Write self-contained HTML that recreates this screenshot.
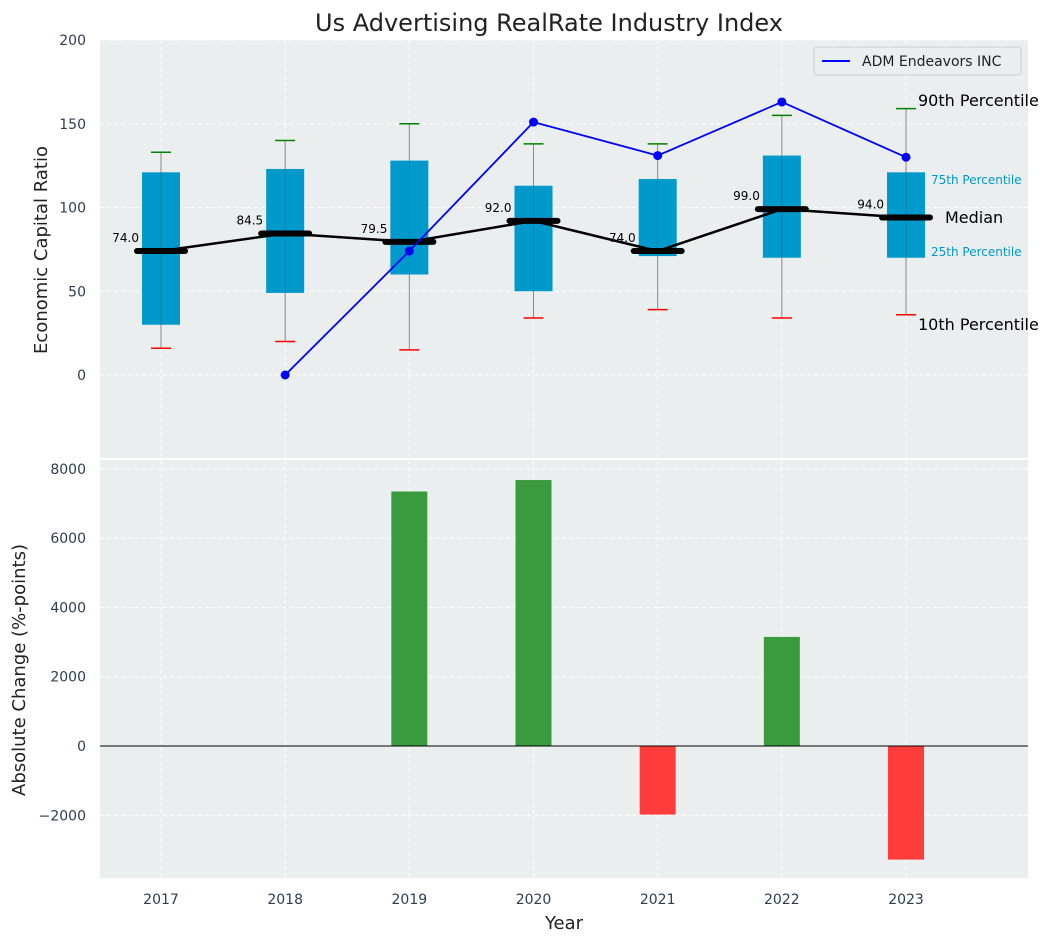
<!DOCTYPE html>
<html><head><meta charset="utf-8"><style>
body{margin:0;background:#fff;font-family:"Liberation Sans","DejaVu Sans",sans-serif}
svg text{font-family:"DejaVu Sans","Liberation Sans",sans-serif}
</style></head><body>
<svg id="c" width="1053" height="942" xmlns="http://www.w3.org/2000/svg"></svg>
<script>
const years=[2017,2018,2019,2020,2021,2022,2023];
const q1=[30,49,60,50,71,70,70];
const q3=[121,123,128,113,117,131,121];
const med=[74,84.5,79.5,92,74,99,94];
const p10=[16,20,15,34,39,34,36];
const p90=[133,140,150,138,138,155,159];
const compYears=[2018,2019,2020,2021,2022,2023];
const compVals=[0,74,151,131,163,130];
const barYears=[2019,2020,2021,2022,2023];
const barVals=[7350,7680,-1980,3150,-3280];
const topTicks=[0,50,100,150,200];
const botTicks=[-2000,0,2000,4000,6000,8000];

const svg=document.getElementById('c');const NS='http://www.w3.org/2000/svg';
function el(t,a,txt){const e=document.createElementNS(NS,t);for(const k in a)e.setAttribute(k,a[k]);if(txt!==undefined)e.textContent=txt;svg.appendChild(e);return e;}
const L=100,R=1028;
const x=v=>161+(v-2017)*124.17;
const yT=v=>375-v*1.675;
const yB=v=>746-v*0.03463;
let e=el('rect',{x:L,y:40,width:R-L,height:418,fill:'#eaeeef'});

e=el('rect',{x:L,y:460,width:R-L,height:418,fill:'#eaeeef'});

years.forEach(v=>{el('line',{x1:x(v),x2:x(v),y1:40,y2:458,stroke:'#fff','stroke-dasharray':'4,3'});el('line',{x1:x(v),x2:x(v),y1:460,y2:878,stroke:'#fff','stroke-dasharray':'4,3'});});
topTicks.forEach(v=>{el('line',{x1:L,x2:R,y1:yT(v),y2:yT(v),stroke:'#fff','stroke-dasharray':'4,3'});
 e=el('text',{x:86,y:yT(v)+5,'text-anchor':'end','font-size':14,fill:'#2c3e50'},v);});
botTicks.forEach(v=>{el('line',{x1:L,x2:R,y1:yB(v),y2:yB(v),stroke:'#fff','stroke-dasharray':'4,3'});
 e=el('text',{x:86,y:yB(v)+5,'text-anchor':'end','font-size':14,fill:'#2c3e50'},v<0?'\u2212'+(-v):v);});
years.forEach((yr,i)=>{const cx=x(yr);
 el('line',{x1:cx,x2:cx,y1:yT(p10[i]),y2:yT(p90[i]),stroke:'#888','stroke-width':1});
 e=el('rect',{x:cx-19,y:yT(q3[i]),width:38,height:yT(q1[i])-yT(q3[i]),fill:'#0099cc'});
 
 el('line',{x1:cx,x2:cx,y1:yT(q1[i]),y2:yT(q3[i]),stroke:'#555','stroke-width':0.8,opacity:0.6});
 el('line',{x1:cx-10,x2:cx+10,y1:yT(p90[i]),y2:yT(p90[i]),stroke:'green','stroke-width':1.5});
 el('line',{x1:cx-10,x2:cx+10,y1:yT(p10[i]),y2:yT(p10[i]),stroke:'red','stroke-width':1.5});
});
let d=years.map((yr,i)=>(i?'L':'M')+x(yr)+','+yT(med[i])).join(' ');
e=el('path',{d:d,fill:'none',stroke:'#000','stroke-width':2.5});
years.forEach((yr,i)=>{const cx=x(yr);
 el('line',{x1:cx-24,x2:cx+24,y1:yT(med[i]),y2:yT(med[i]),stroke:'#000','stroke-width':6,'stroke-linecap':'round'});
 e=el('text',{x:cx-22,y:yT(med[i])-9,'text-anchor':'end','font-size':12,fill:'#000'},med[i].toFixed(1));
 });
d=compYears.map((yr,i)=>(i?'L':'M')+x(yr)+','+yT(compVals[i])).join(' ');
e=el('path',{d:d,fill:'none',stroke:'blue','stroke-width':1.8});
compYears.forEach((yr,i)=>{e=el('circle',{cx:x(yr),cy:yT(compVals[i]),r:4.5,fill:'blue'});});
[[918,106,'90th Percentile',16,'#000'],[931,184,'75th Percentile',12,'#0099cc'],[945,223,'Median',16,'#000'],[931,256,'25th Percentile',12,'#0099cc'],[918,330,'10th Percentile',16,'#000']].forEach(a=>{
 e=el('text',{x:a[0],y:a[1],'font-size':a[3],fill:a[4]},a[2]);});
e=el('rect',{x:814,y:47,width:207,height:28,fill:'#eaeeef',stroke:'#ccc',rx:3});
el('line',{x1:822,x2:850,y1:61,y2:61,stroke:'blue','stroke-width':2});
e=el('text',{x:862,y:66,'font-size':14,fill:'#222'},'ADM Endeavors INC');
barYears.forEach((yr,i)=>{const v=barVals[i];const y0=yB(Math.max(v,0)),y1=yB(Math.min(v,0));
 e=el('rect',{x:x(yr)-18,y:y0,width:36,height:y1-y0,fill:v>=0?'#3a9b3e':'#ff3c3c'});
 });
el('line',{x1:L,x2:R,y1:yB(0),y2:yB(0),stroke:'#000','stroke-width':1});
years.forEach(v=>{e=el('text',{x:x(v),y:904,'text-anchor':'middle','font-size':14,fill:'#2c3e50'},v);});
e=el('text',{x:549,y:31,'text-anchor':'middle','font-size':24,fill:'#222'},'Us Advertising RealRate Industry Index');
e=el('text',{x:564,y:929,'text-anchor':'middle','font-size':18,fill:'#222'},'Year');
e=el('text',{x:0,y:0,'text-anchor':'middle','font-size':18,fill:'#222',transform:'translate(47,250) rotate(-90)'},'Economic Capital Ratio');
e=el('text',{x:0,y:0,'text-anchor':'middle','font-size':18,fill:'#222',transform:'translate(25,670) rotate(-90)'},'Absolute Change (%-points)');
</script>
</body></html>
